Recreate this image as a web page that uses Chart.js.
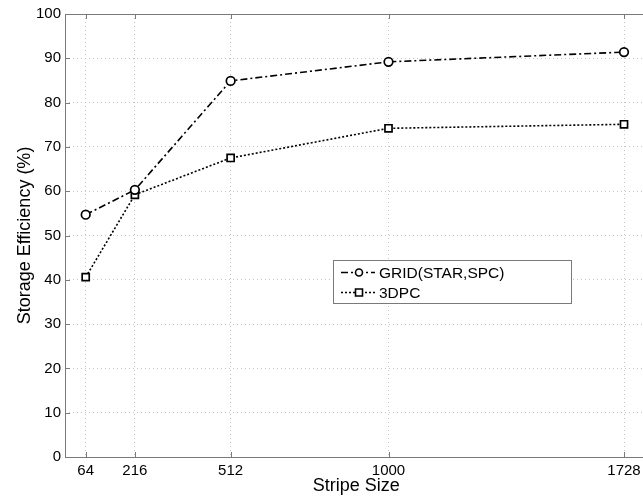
<!DOCTYPE html>
<html>
<head>
<meta charset="utf-8">
<script src="https://cdn.jsdelivr.net/npm/chart.js@4.4.1/dist/chart.umd.min.js"></script>
<style>
  html, body { margin: 0; padding: 0; background: #fff; overflow: hidden; }
  #wrap { width: 643px; height: 502px; overflow: hidden; }
  #box { width: 654px; height: 502px; }
</style>
</head>
<body>
<div id="wrap"><div id="box"><canvas id="effChart"></canvas></div></div>
<script>
// values
const stripeSizes = [64, 216, 512, 1000, 1728];
const gridEff = [54.7, 60.3, 84.9, 89.2, 91.4];
const dpcEff = [40.6, 59.2, 67.5, 74.2, 75.1];
const yTicks = [0, 10, 20, 30, 40, 50, 60, 70, 80, 90, 100];
const seriesNames = ['GRID(STAR,SPC)', '3DPC'];

const FONT = "'Liberation Sans', Arial, sans-serif";
const AXIS_COLOR = '#7a7a7a';

const toPoints = (vals) => stripeSizes.map((s, i) => ({ x: s, y: vals[i] }));

// frame + inward tick marks + legend box inside the plot
const framePlugin = {
    id: 'frame',
    afterDatasetsDraw(chart) {
        const { ctx, chartArea: a, scales } = chart;
        ctx.save();
        ctx.strokeStyle = AXIS_COLOR;
        ctx.lineWidth = 1;
        ctx.strokeRect(a.left + 0.5, a.top + 0.5, a.right - a.left, a.bottom - a.top);
        ctx.beginPath();
        stripeSizes.forEach(s => {
            const x = Math.round(scales.x.getPixelForValue(s)) + 0.5;
            ctx.moveTo(x, a.bottom); ctx.lineTo(x, a.bottom - 5);
            ctx.moveTo(x, a.top); ctx.lineTo(x, a.top + 5);
        });
        yTicks.forEach(v => {
            const y = Math.round(scales.y.getPixelForValue(v)) + 0.5;
            ctx.moveTo(a.left, y); ctx.lineTo(a.left + 5, y);
        });
        ctx.stroke();

        // legend
        const lx = 333, ly = 260, lw = 238, lh = 43;
        ctx.fillStyle = '#fff';
        ctx.fillRect(lx, ly, lw, lh);
        ctx.strokeStyle = AXIS_COLOR;
        ctx.strokeRect(lx + 0.5, ly + 0.5, lw, lh);
        chart.data.datasets.forEach((ds, i) => {
            const cy = ly + 12.5 + i * 20;
            ctx.strokeStyle = '#000';
            ctx.lineWidth = 1.5;
            ctx.setLineDash(ds.borderDash);
            ctx.beginPath();
            ctx.moveTo(lx + 8, cy); ctx.lineTo(lx + 42, cy);
            ctx.stroke();
            ctx.setLineDash([]);
            ctx.fillStyle = '#fff';
            ctx.lineWidth = 1.6;
            ctx.beginPath();
            if (ds.pointStyle === 'circle') {
                ctx.arc(lx + 26, cy, 3.5, 0, Math.PI * 2);
            } else {
                ctx.rect(lx + 22.5, cy - 3.5, 7, 7);
            }
            ctx.fill();
            ctx.stroke();
            ctx.fillStyle = '#000';
            ctx.font = '15.5px ' + FONT;
            ctx.textBaseline = 'middle';
            ctx.fillText(ds.label, lx + 46, cy + 1);
        });
        ctx.restore();
    }
};

new Chart(document.getElementById('effChart'), {
    type: 'scatter',
    data: {
        datasets: [{
            label: seriesNames[0],
            data: toPoints(gridEff),
            showLine: true,
            borderColor: '#000',
            borderWidth: 1.6,
            borderDash: [7, 3, 2, 3],
            pointStyle: 'circle',
            pointRadius: 4.3,
            pointBorderWidth: 1.7,
            pointBackgroundColor: '#fff',
            pointBorderColor: '#000'
        }, {
            label: seriesNames[1],
            data: toPoints(dpcEff),
            showLine: true,
            borderColor: '#000',
            borderWidth: 1.6,
            borderDash: [2, 2],
            pointStyle: 'rect',
            pointRadius: 5,
            pointBorderWidth: 1.7,
            pointBackgroundColor: '#fff',
            pointBorderColor: '#000'
        }]
    },
    options: {
        responsive: true,
        maintainAspectRatio: false,
        animation: false,
        layout: { padding: { top: 14, right: 3, left: 0, bottom: 0 } },
        plugins: {
            legend: { display: false },
            tooltip: { enabled: false }
        },
        scales: {
            x: {
                type: 'linear',
                min: 0,
                max: 1800,
                afterBuildTicks: (scale) => { scale.ticks = stripeSizes.map(v => ({ value: v })); },
                afterFit: (scale) => { scale.height = 45; },
                ticks: {
                    autoSkip: false,
                    maxRotation: 0,
                    color: '#000',
                    padding: 5,
                    font: { family: FONT, size: 15 },
                    callback: (v) => String(v)
                },
                grid: { color: '#c4c4c4', drawTicks: false, lineWidth: 1 },
                border: { display: false, dash: [1, 3] },
                title: {
                    display: true,
                    text: 'Stripe Size',
                    color: '#000',
                    font: { family: FONT, size: 18 },
                    padding: { top: 0, bottom: 5 }
                }
            },
            y: {
                min: 0,
                max: 100,
                afterBuildTicks: (scale) => { scale.ticks = yTicks.map(v => ({ value: v })); },
                afterFit: (scale) => { scale.width = 65; },
                ticks: {
                    color: '#000',
                    padding: 4,
                    font: { family: FONT, size: 15 }
                },
                grid: { color: '#c4c4c4', drawTicks: false, lineWidth: 1 },
                border: { display: false, dash: [1, 3] },
                title: {
                    display: true,
                    text: 'Storage Efficiency (%)',
                    color: '#000',
                    font: { family: FONT, size: 18 },
                    padding: { top: 14, bottom: 0 }
                }
            }
        }
    },
    plugins: [framePlugin]
});
</script>
</body>
</html>
